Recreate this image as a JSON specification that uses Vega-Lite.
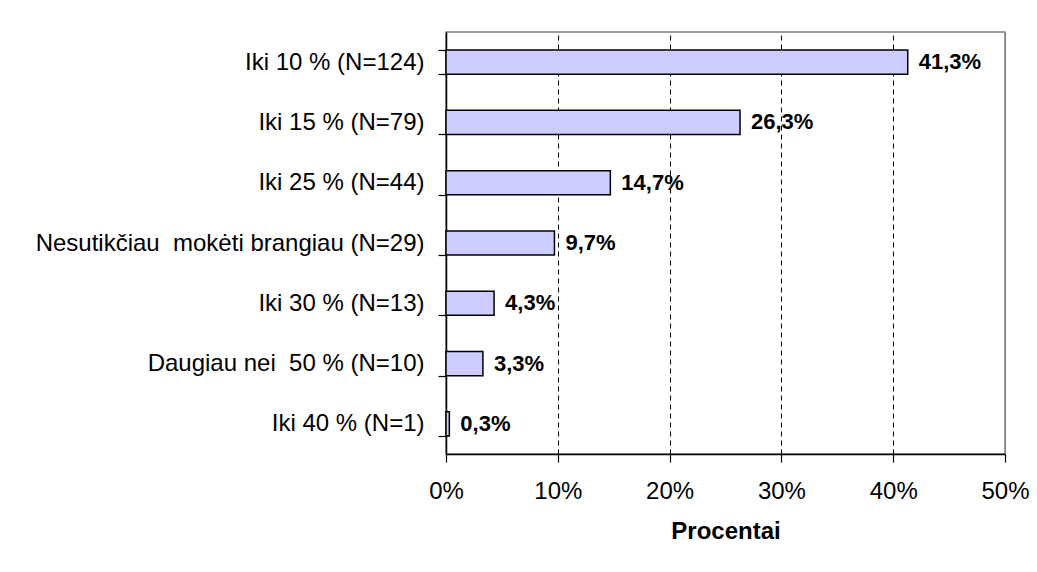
{
  "$schema": "https://vega.github.io/schema/vega-lite/v6.json",
  "width": 559,
  "height": 422,
  "autosize": {"type": "none"},
  "padding": {"left": 446, "top": 32, "right": 32, "bottom": 118},
  "background": "white",
  "config": {
    "font": "Liberation Sans",
    "view": {"stroke": "#808080", "strokeWidth": 1.5}
  },
  "data": {
    "values": [
      {"kategorija": "Iki 10 % (N=124)", "procentai": 41.3},
      {"kategorija": "Iki 15 % (N=79)", "procentai": 26.3},
      {"kategorija": "Iki 25 % (N=44)", "procentai": 14.7},
      {"kategorija": "Nesutikčiau \u00a0mokėti brangiau (N=29)", "procentai": 9.7},
      {"kategorija": "Iki 30 % (N=13)", "procentai": 4.3},
      {"kategorija": "Daugiau nei \u00a050 % (N=10)", "procentai": 3.3},
      {"kategorija": "Iki 40 % (N=1)", "procentai": 0.3}
    ]
  },
  "transform": [
    {"calculate": "replace(format(datum.procentai, '.1f'), '.', ',') + '%'", "as": "etikete"}
  ],
  "encoding": {
    "y": {
      "field": "kategorija",
      "type": "nominal",
      "sort": null,
      "scale": {"paddingInner": 0.6, "paddingOuter": 0.3},
      "axis": {
        "title": null,
        "tickBand": "extent",
        "domainColor": "black",
        "domainWidth": 1.5,
        "tickColor": "black",
        "tickWidth": 1.2,
        "tickSize": 8,
        "labelFontSize": 24,
        "labelColor": "black",
        "labelPadding": 14,
        "labelLimit": 0
      }
    },
    "x": {
      "field": "procentai",
      "type": "quantitative",
      "scale": {"domain": [0, 50], "nice": false},
      "axis": {
        "title": "Procentai",
        "titleFontSize": 24,
        "titleFontWeight": "bold",
        "titleColor": "black",
        "titlePadding": 16,
        "values": [0, 10, 20, 30, 40, 50],
        "labelExpr": "datum.value + '%'",
        "labelFontSize": 24,
        "labelColor": "black",
        "labelPadding": 17,
        "labelFlush": false,
        "domainColor": "black",
        "domainWidth": 1.5,
        "tickColor": "black",
        "tickWidth": 1.2,
        "tickSize": 8,
        "grid": true,
        "gridColor": {"condition": {"test": "datum.value == 50", "value": "#808080"}, "value": "black"},
        "gridDash": {"condition": {"test": "datum.value == 50", "value": []}, "value": [5, 4]},
        "gridWidth": 1
      }
    }
  },
  "layer": [
    {
      "mark": {"type": "bar", "color": "#CCCCFF", "stroke": "black", "strokeWidth": 1.5}
    },
    {
      "mark": {"type": "text", "align": "left", "baseline": "middle", "dx": 11, "fontSize": 22, "fontWeight": "bold", "color": "black"},
      "encoding": {"text": {"field": "etikete"}}
    }
  ]
}
